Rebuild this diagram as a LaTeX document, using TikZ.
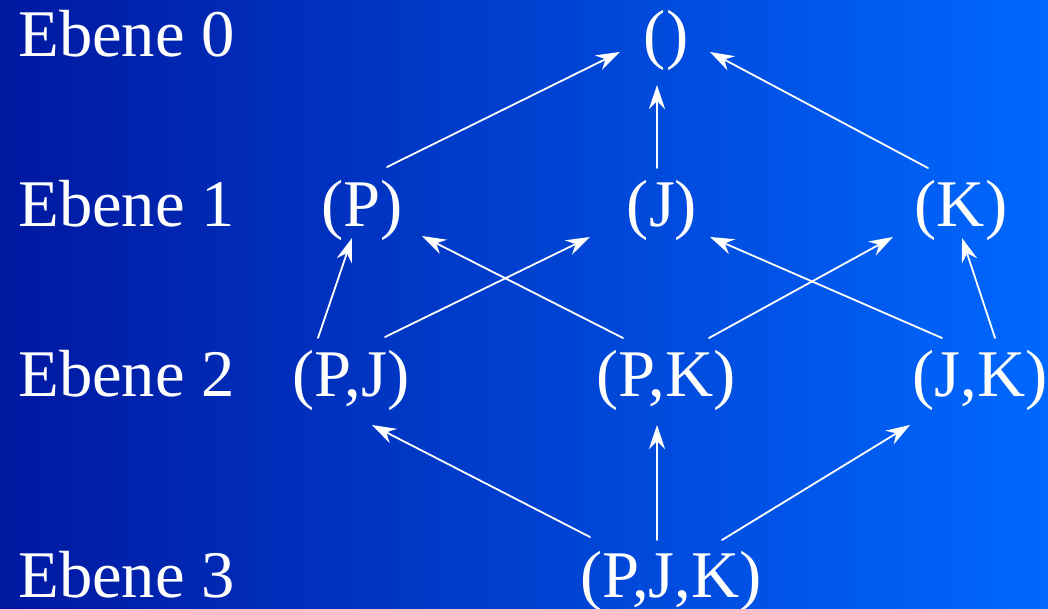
\documentclass[tikz,border=0pt]{standalone}
\usepackage{fontspec}
\setmainfont{Liberation Serif}
\usetikzlibrary{arrows.meta}

\definecolor{bgleft}{RGB}{0,24,160}
\definecolor{bgmid}{RGB}{0,80,224}
\definecolor{bgright}{RGB}{0,104,255}

\tikzset{
  lbl/.style={text=white, inner sep=0pt, font=\fontsize{50}{60}\selectfont},
  ebene/.style={lbl, anchor=base west},
  tupel/.style={lbl, anchor=base},
  pfeil/.style={draw=white, line width=1.35pt, -{Stealth[length=18pt,width=12pt,inset=6pt]}}
}

\begin{document}
\begin{tikzpicture}[x=0.75pt, y=-0.75pt, line cap=round, line join=round]
			% Background with blue gradient
			\useasboundingbox (0,0) rectangle (1048,609);
			\shade[left color=bgleft, middle color=bgmid, right color=bgright] (0,0) rectangle (1048,609);
			
			% Level labels
			\node[ebene] (e0) at (18,57) {Ebene 0};
			\node[ebene] (e1) at (18,227) {Ebene 1};
			\node[ebene] (e2) at (18,396) {Ebene 2};
			\node[ebene] (e3) at (18,597) {Ebene 3};
			
			% Tuples of each level
			\node[tupel] (n) at (666,57) {()};
			\node[tupel] (p) at (362,227) {(P)};
			\node[tupel] (j) at (662,227) {(J)};
			\node[tupel] (k) at (961,227) {(K)};
			\node[tupel] (pj) at (351,396) {(P,J)};
			\node[tupel] (pk) at (666,396) {(P,K)};
			\node[tupel] (jk) at (980,396) {(J,K)};
			\node[tupel] (pjk) at (671,597) {(P,J,K)};
			
			% Ebene 1 -> Ebene 0
			\draw[pfeil] ([shift={(25,-60)}]p.base) -- ([shift={(-46,-5)}]n.base);
			\draw[pfeil] ([shift={(-5,-59)}]j.base) -- ([shift={(-9,28)}]n.base);
			\draw[pfeil] ([shift={(-33,-59)}]k.base) -- ([shift={(44,-5)}]n.base);
			
			% Ebene 2 -> Ebene 1
			\draw[pfeil] ([shift={(-33,-58)}]pj.base) -- ([shift={(-10,11)}]p.base);
			\draw[pfeil] ([shift={(34,-59)}]pj.base) -- ([shift={(-72,10)}]j.base);
			\draw[pfeil] ([shift={(-43,-58)}]pk.base) -- ([shift={(60,9)}]p.base);
			\draw[pfeil] ([shift={(43,-58)}]pk.base) -- ([shift={(-68,10)}]k.base);
			\draw[pfeil] ([shift={(-38,-58)}]jk.base) -- ([shift={(48,10)}]j.base);
			\draw[pfeil] ([shift={(15,-58)}]jk.base) -- ([shift={(1,11)}]k.base);
			
			% Ebene 3 -> Ebene 2
			\draw[pfeil] ([shift={(-81,-60)}]pjk.base) -- ([shift={(21,29)}]pj.base);
			\draw[pfeil] ([shift={(-14,-57)}]pjk.base) -- ([shift={(-9,29)}]pk.base);
			\draw[pfeil] ([shift={(51,-57)}]pjk.base) -- ([shift={(-70,29)}]jk.base);
		\end{tikzpicture}
\end{document}
